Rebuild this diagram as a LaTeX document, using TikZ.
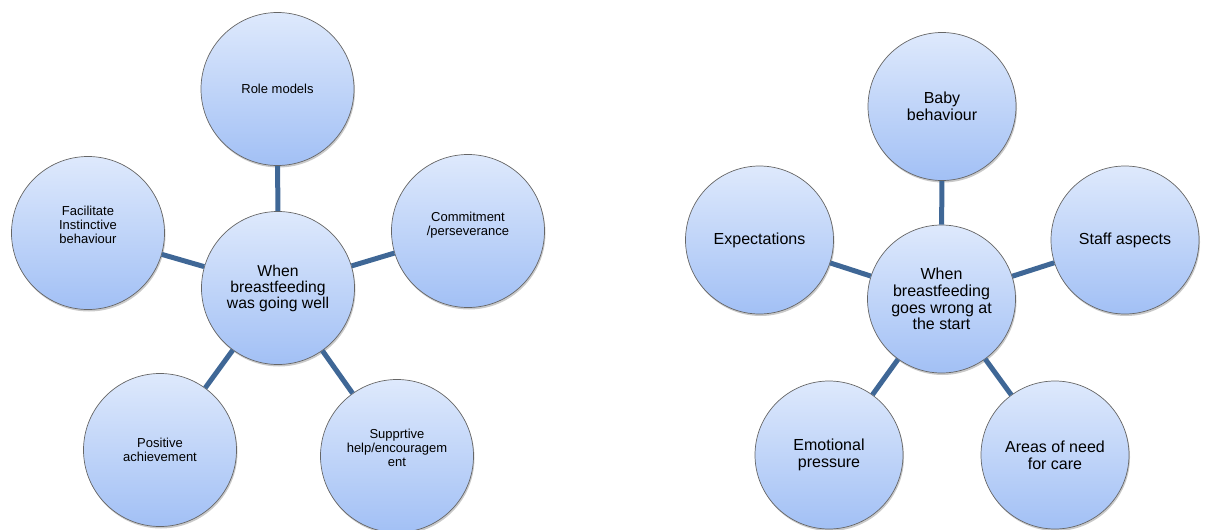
\documentclass[tikz,border=0pt]{standalone}
\usepackage{fontspec}
\setmainfont{Liberation Sans}
\usetikzlibrary{shadows}
\definecolor{ballTop}{HTML}{DEE9FC}
\definecolor{ballBottom}{HTML}{A2C0F5}
\definecolor{spokeBlue}{HTML}{3F6796}
\def\leftsmall{\fontsize{13}{14.2}\selectfont}
\def\leftbig{\fontsize{15.7}{16}\selectfont}
\def\rightsize{\fontsize{16}{16.7}\selectfont}
% empty last line, lifts the text a little inside its circle
\def\lift#1{\\\rule{0pt}{#1}}
\tikzset{
	ball/.style={circle, draw=black!60, line width=0.7pt, top color=ballTop, bottom color=ballBottom,
		align=center, inner sep=0pt, text=black,
		drop shadow={shadow xshift=1pt, shadow yshift=-2pt, opacity=0.3, fill=black!70}},
	bigball/.style={ball, minimum size=153pt, font=\leftsmall},
	smallball/.style={ball, minimum size=148pt, font=\rightsize},
	spokeline/.style={draw=spokeBlue, line width=5pt}
}

\begin{document}
\begin{tikzpicture}[x=1pt, y=-1pt]
		%%%%% START %%%%%
		\useasboundingbox (0,0) rectangle (1205,530);
		
		% going well
		\node[bigball, font=\leftbig] (well) at (278,288) {When\\breastfeeding\\was going well};
		\node[bigball] (role) at (277.5,89) {Role models};
		\node[bigball] (facil) at (88,233) {Facilitate\\Instinctive\\behaviour\lift{15pt}};
		\node[bigball] (commit) at (468,231) {Commitment\\/perseverance\lift{8pt}};
		\node[bigball] (positive) at (160,450) {Positive\\achievement};
		\node[bigball] (support) at (397,456) {Supprtive\\help/encouragem\\ent\lift{15pt}};
		
		\draw[spokeline] (well) -- (role);
		\draw[spokeline] (well) -- (facil);
		\draw[spokeline] (well) -- (commit);
		\draw[spokeline] (well) -- (positive);
		\draw[spokeline] (well) -- (support);
		
		% goes wrong
		\node[smallball] (wrong) at (941.5,299) {When\\breastfeeding\\goes wrong at\\the start};
		\node[smallball] (baby) at (942,106.5) {Baby\\behaviour};
		\node[smallball] (expect) at (759.5,240) {Expectations};
		\node[smallball] (staff) at (1125,240) {Staff aspects};
		\node[smallball] (emotion) at (829,455) {Emotional\\pressure};
		\node[smallball] (areas) at (1055,455) {Areas of need\\for care};
		
		\draw[spokeline] (wrong) -- (baby);
		\draw[spokeline] (wrong) -- (expect);
		\draw[spokeline] (wrong) -- (staff);
		\draw[spokeline] (wrong) -- (emotion);
		\draw[spokeline] (wrong) -- (areas);
		%%%%% END %%%%%
	\end{tikzpicture}
\end{document}
